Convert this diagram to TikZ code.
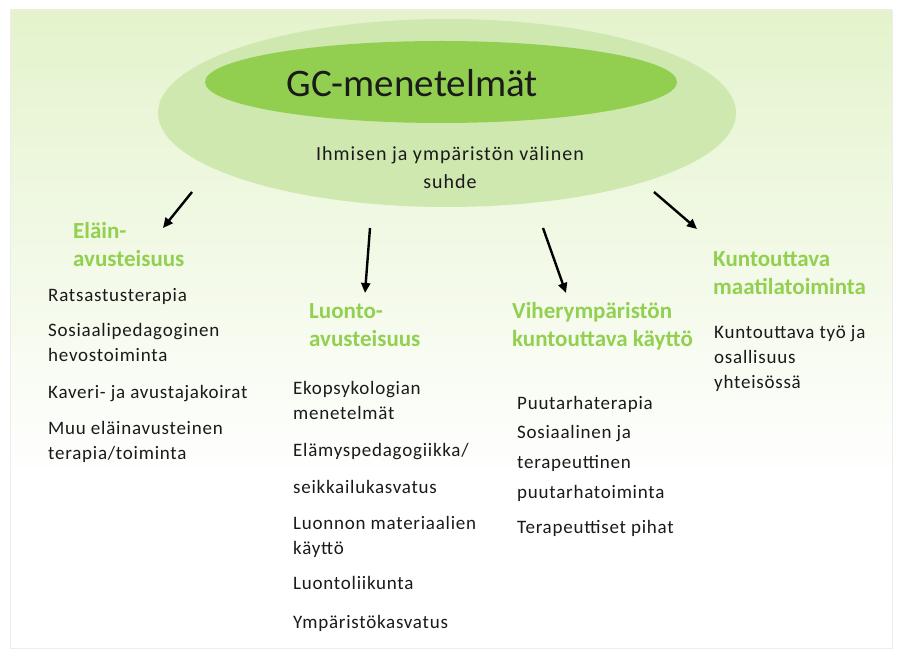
\documentclass[tikz,border=0pt]{standalone}
\usepackage{fontspec}
\setmainfont{Carlito}
\usetikzlibrary{arrows.meta}
\definecolor{bgtop}{HTML}{E4F3CC}
\definecolor{outerell}{HTML}{CFE8B0}
\definecolor{innerell}{HTML}{92CF50}
\definecolor{headgreen}{HTML}{92D050}
\definecolor{framegray}{HTML}{EDEDED}
\definecolor{inktext}{HTML}{1A1A1A}
\tikzset{
  heading/.style={anchor=base west, align=left, inner sep=0pt, text=headgreen,
    font=\fontsize{23}{28}\selectfont\bfseries},
  item/.style={anchor=base west, align=left, inner sep=0pt, text=inktext,
    font=\fontsize{19}{25}\selectfont\addfontfeatures{LetterSpace=4}},
  arr/.style={line width=2.4pt, -{Triangle[length=10pt,width=9pt]}},
}
\begin{document}
\begin{tikzpicture}[x=1pt,y=-1pt]
\useasboundingbox (0,0) rectangle (901,660);
\fill[white] (0,0) rectangle (901,660);
% background panel
\shade[top color=bgtop, bottom color=white] (10,10) rectangle (892,480);
\fill[white] (10,480) rectangle (892,648);
\draw[framegray, line width=0.8pt] (10,10) rectangle (892,648);
% ellipses
\fill[outerell] (447,113) ellipse [x radius=289, y radius=94];
\fill[innerell] (441,82) ellipse [x radius=236, y radius=41];
\node[anchor=base, inner sep=0pt, text=inktext, font=\fontsize{39}{46}\selectfont] (title) at (412,97) {GC-menetelmät};
\node[anchor=base, inner sep=0pt, align=center, text=inktext,
  font=\fontsize{20}{28}\selectfont\addfontfeatures{LetterSpace=5}] (sub) at (450,189) {Ihmisen ja ympäristön välinen\\suhde};
% headings (base = baseline of last line)
\node[heading] (h1) at (73,266) {Eläin-\\avusteisuus};
\node[heading] (h2) at (309,346) {Luonto-\\avusteisuus};
\node[heading] (h3) at (512,346) {Viherympäristön\\kuntouttava käyttö};
\node[heading] (h4) at (713,294) {Kuntouttava\\maatilatoiminta};
% column 1
\node[item] (c1a) at (48,301) {Ratsastusterapia};
\node[item] (c1b) at (48,361) {Sosiaalipedagoginen\\hevostoiminta};
\node[item] (c1c) at (48,398) {Kaveri- ja avustajakoirat};
\node[item] (c1d) at (48,459) {Muu eläinavusteinen\\terapia/toiminta};
% column 2
\node[item] (c2a) at (293,419) {Ekopsykologian\\menetelmät};
\node[item] (c2b) at (293,456) {Elämyspedagogiikka/};
\node[item] (c2c) at (293,493) {seikkailukasvatus};
\node[item] (c2d) at (293,554) {Luonnon materiaalien\\käyttö};
\node[item] (c2e) at (293,589) {Luontoliikunta};
\node[item] (c2f) at (293,628) {Ympäristökasvatus};
% column 3
\node[item] (c3a) at (517,409) {Puutarhaterapia};
\node[item, font=\fontsize{19}{30}\selectfont\addfontfeatures{LetterSpace=4}] (c3b) at (517,498) {Sosiaalinen ja\\terapeuttinen\\puutarhatoiminta};
\node[item] (c3c) at (517,533) {Terapeuttiset pihat};
% column 4
\node[item] (c4a) at (714,388) {Kuntouttava työ ja\\osallisuus\\yhteisössä};
% arrows
\coordinate (a1s) at (192,192); \coordinate (a1e) at (163,228);
\coordinate (a2s) at (370,228); \coordinate (a2e) at (365,293);
\coordinate (a3s) at (543,228); \coordinate (a3e) at (566,293);
\coordinate (a4s) at (654,192); \coordinate (a4e) at (697,229);
\draw[arr] (a1s) -- (a1e);
\draw[arr] (a2s) -- (a2e);
\draw[arr] (a3s) -- (a3e);
\draw[arr] (a4s) -- (a4e);
\end{tikzpicture}
\end{document}
